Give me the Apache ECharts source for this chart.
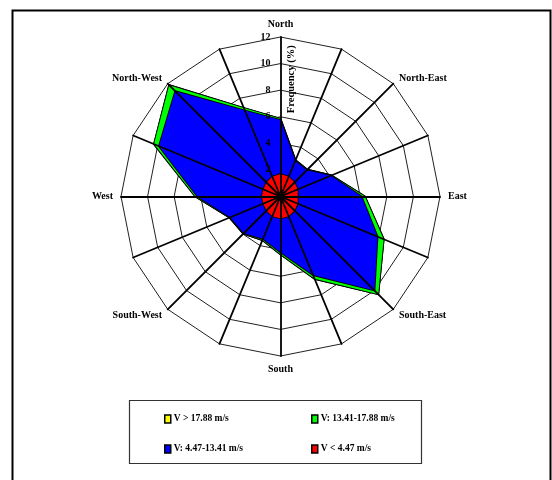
<!DOCTYPE html>
<html>
<head>
<meta charset="utf-8">
<script src="https://cdn.jsdelivr.net/npm/echarts@6/dist/echarts.min.js"></script>
<style>
  html, body { margin: 0; padding: 0; background: #fff; }
  #chart { width: 552px; height: 480px; }
</style>
</head>
<body>
<div id="chart"></div>
<script>
// Wind rose: frequency (%) of each wind-speed class per direction,
// listed clockwise from North (16 sectors).
const directions = ['North', '', 'North-East', '', 'East', '', 'South-East', '',
                    'South', '', 'South-West', '', 'West', '', 'North-West', ''];

// Frequency (%) contributed by each speed class
const freqBelow447   = [1.7, 1.6, 1.5, 1.4, 1.3, 1.4, 1.5, 1.6, 1.65, 1.6, 1.5, 1.4, 1.4, 1.4, 1.5, 1.6];
const freq447to1341  = [4.05, 1.3, 1.3, 2.7, 4.8, 6.5, 8.5, 4.8, 2.55, 1.85, 2.4, 2.7, 4.85, 8.5, 9.7, 5.4];
const freq1341to1788 = [0.1, 0.05, 0.05, 0.05, 0.25, 0.5, 0.4, 0.3, 0.15, 0.1, 0.05, 0.05, 0.15, 0.4, 0.65, 0.2];
const freqAbove1788  = [0, 0, 0, 0, 0, 0, 0, 0, 0, 0, 0, 0, 0, 0, 0, 0];

const classNames  = ['V > 17.88 m/s', 'V: 13.41-17.88 m/s', 'V: 4.47-13.41 m/s', 'V < 4.47 m/s'];
const classColors = ['#ffff00', '#00ff00', '#0000ff', '#ff0000'];

const freqMax = 12;
const freqStep = 2;
const axisTitle = 'Frequency (%)';

// ---- build stacked rings (outermost class drawn first) ----
const bandsInner = [freqBelow447, freq447to1341, freq1341to1788, freqAbove1788];
const cumulative = [];
let running = directions.map(() => 0);
bandsInner.forEach(band => {
  running = running.map((v, i) => v + band[i]);
  cumulative.push(running.slice());
});
// cumulative[0] = red, [1] = blue, [2] = green, [3] = yellow

// radar places indicators counter-clockwise, so walk the compass backwards
const ccwOrder = directions.map((_, i) => (directions.length - i) % directions.length);
const reorder = arr => ccwOrder.map(i => arr[i]);

const font = { fontFamily: 'Liberation Serif', fontWeight: 'bold', color: '#000' };
const CENTER = [280.5, 196.5];
const RADIUS = 159.5;

const indicatorsNamed = reorder(directions).map(name => ({ name, min: 0, max: freqMax }));
const indicatorsBlank = reorder(directions).map(() => ({ name: '', min: 0, max: freqMax }));

const seriesData = [3, 2, 1, 0].map(k => ({
  name: classNames[3 - k],
  value: reorder(cumulative[k]),
  itemStyle: { color: classColors[3 - k] },
  areaStyle: { color: classColors[3 - k], opacity: 1 },
  lineStyle: { color: '#000', width: 1.8 }
}));

const chart = echarts.init(document.getElementById('chart'), null, { renderer: 'canvas' });

const legendCommon = {
  orient: 'vertical',
  top: 409,
  itemGap: 20,
  itemWidth: 6,
  itemHeight: 8,
  icon: 'rect',
  selectedMode: false,
  itemStyle: { borderColor: '#000', borderWidth: 1.5 },
  textStyle: Object.assign({ fontSize: 9.5, padding: [0, 0, 0, -2] }, font)
};

chart.setOption({
  animation: false,
  backgroundColor: '#fff',
  graphic: [
    { type: 'rect', shape: { x: 12.5, y: 10.5, width: 538, height: 480 },
      style: { fill: null, stroke: '#000', lineWidth: 2 }, z: 0 },
    { type: 'rect', shape: { x: 129.5, y: 400.5, width: 292, height: 63 },
      style: { fill: '#fff', stroke: '#333', lineWidth: 1.2 }, z: 0 }
  ],
  legend: [
    Object.assign({ left: 159, data: [classNames[0], classNames[2]] }, legendCommon),
    Object.assign({ left: 306, data: [classNames[1], classNames[3]] }, legendCommon)
  ],
  radar: [
    {
      center: CENTER,
      radius: RADIUS,
      startAngle: 90,
      shape: 'polygon',
      splitNumber: freqMax / freqStep,
      indicator: indicatorsNamed,
      nameGap: 8,
      axisName: Object.assign({ fontSize: 10 }, font),
      axisLine: { show: false },
      splitLine: { lineStyle: { color: '#222', width: 1 } },
      splitArea: { show: false },
      z: 1
    },
    {
      center: CENTER,
      radius: RADIUS,
      startAngle: 90,
      shape: 'polygon',
      splitNumber: freqMax / freqStep,
      indicator: indicatorsBlank,
      axisLine: { lineStyle: { color: '#000', width: 1.8 } },
      splitLine: { show: false },
      splitArea: { show: false },
      z: 10
    }
  ],
  polar: { center: CENTER, radius: RADIUS },
  angleAxis: { type: 'value', min: 0, max: 360, startAngle: 90, show: false },
  radiusAxis: {
    type: 'value',
    min: 0,
    max: freqMax,
    interval: freqStep,
    z: 20,
    axisLine: { show: false },
    axisTick: { show: false },
    splitLine: { show: false },
    axisLabel: Object.assign({ fontSize: 10, margin: 10, showMinLabel: false }, font),
    name: axisTitle,
    nameLocation: 'middle',
    nameGap: 5,
    nameTextStyle: Object.assign({ fontSize: 10.5, padding: [0, 0, 0, 75] }, font)
  },
  series: [{
    type: 'radar',
    radarIndex: 0,
    z: 5,
    symbol: 'none',
    silent: true,
    data: seriesData
  }]
});
</script>
</body>
</html>
